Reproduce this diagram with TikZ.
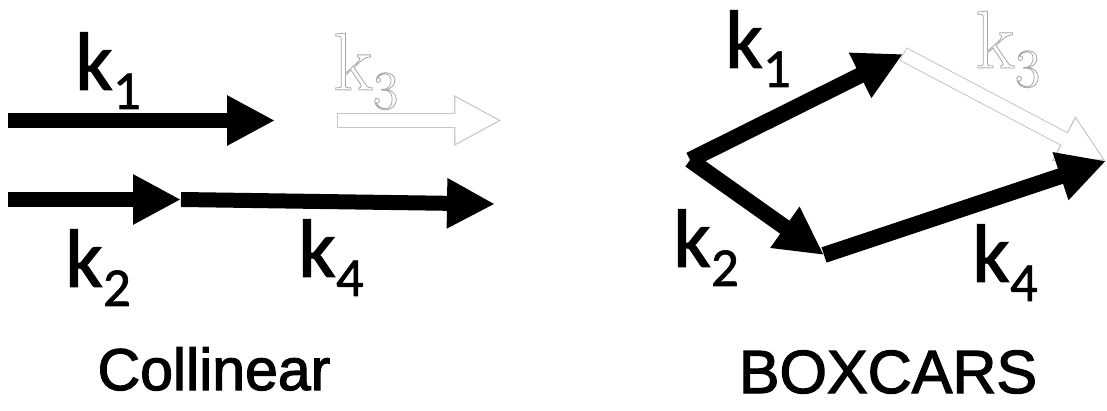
\documentclass[tikz,border=0pt]{standalone}
\usepackage{fontspec}
\setmainfont{Liberation Sans}[FakeBold=2]
\newfontfamily\kfont{Carlito}[FakeBold=1.2]
\newfontfamily\ghostfont{Latin Modern Roman}
\usetikzlibrary{arrows.meta, positioning}

\newcommand{\kvec}[1]{k\raisebox{-19pt}{\fontsize{55}{55}\selectfont #1}}
\newcommand{\hollow}[1]{\special{pdf:literal direct 1 Tr 0.8 w}#1\special{pdf:literal direct 0 Tr}}

\begin{document}
\begin{tikzpicture}[
    x=1pt, y=-1pt,
    vec/.style={-{Triangle[length=48pt, width=47pt]}, line width=15pt},
    ghost/.style={vec, draw=black!22},
    ghostin/.style={-{Triangle[length=44pt, width=43pt]}, line width=13pt, draw=white, shorten >=2.6pt, shorten <=1pt},
    klabel/.style={anchor=base west, inner sep=0pt, font=\kfont\fontsize{83}{90}\selectfont},
    ghostlabel/.style={klabel, font=\ghostfont\fontsize{82}{90}\selectfont, text=black!35},
    caption/.style={anchor=base, inner sep=0pt, font=\fontsize{59}{64}\selectfont}
]
\useasboundingbox (0,0) rectangle (1107,411);

% Collinear
\coordinate (c1s) at (8,120.5);
\coordinate (c1e) at (275,120.5);
\coordinate (c3s) at (337,120.5);
\coordinate (c3e) at (502,120.5);
\coordinate (c2s) at (8,199.5);
\coordinate (c2e) at (181,199.5);
\coordinate (c4e) at (495,204);

\draw[ghost] (c3s) -- (c3e);
\draw[ghostin] (c3s) -- (c3e);
\draw[vec] (c1s) -- (c1e);
\draw[vec] (c2s) -- (c2e);
\draw[vec] (c2e) -- (c4e);

\node[klabel] (ck1) at (75,90) {\kvec{1}};
\node[ghostlabel] (ck3) at (333,90) {\hollow{\kvec{3}}};
\node[klabel] (ck2) at (65,287) {\kvec{2}};
\node[klabel] (ck4) at (298,277) {\kvec{4}};

\node[caption] (collinear) at (214,390) {Collinear};

% BOXCARS
\coordinate (b0) at (690,160);
\coordinate (b1) at (903,54);
\coordinate (b2) at (824,255);
\coordinate (b4) at (1106,161);

\draw[ghost] (b1) -- (b4);
\draw[ghostin] (b1) -- (b4);
\draw[vec, line width=16pt] (b0) -- (b1);
\draw[vec, line width=16pt] (b0) -- (b2);
\draw[vec, line width=16pt] (b2) -- (b4);

\node[klabel] (bk1) at (725,68) {\kvec{1}};
\node[ghostlabel] (bk3) at (975,68) {\hollow{\kvec{3}}};
\node[klabel] (bk2) at (673,267) {\kvec{2}};
\node[klabel] (bk4) at (972,282) {\kvec{4}};

\node[caption, font=\fontsize{61}{66}\selectfont] (boxcars) at (888,393) {BOXCARS};

\end{tikzpicture}
\end{document}
